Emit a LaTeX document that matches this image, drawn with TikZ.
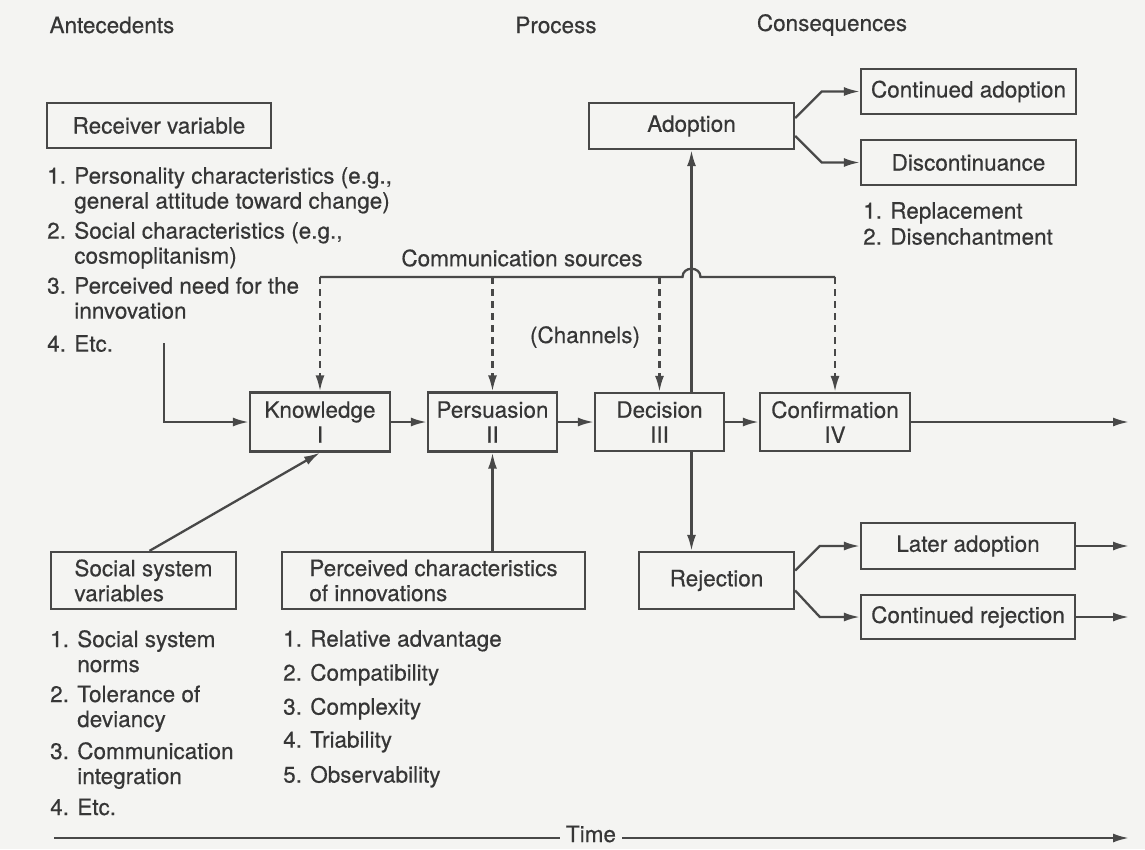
\documentclass[tikz,border=0pt]{standalone}
\usepackage{fontspec}
\setmainfont{TeX Gyre Heros}[FakeBold=0.4]
\usetikzlibrary{arrows.meta}
\definecolor{tratto}{HTML}{484848}
\definecolor{testo}{HTML}{363636}
\definecolor{sfondo}{HTML}{F4F4F2}
\begin{document}
\begin{tikzpicture}[x=1pt, y=-1pt,
    every node/.style={font=\fontsize{22.5}{25}\selectfont, text=testo},
    box/.style={draw=tratto, line width=2.3pt, rectangle, inner sep=0pt},
    lista/.style={align=left, anchor=north west, inner sep=0pt},
    filo/.style={draw=tratto, line width=2.3pt},
    freccia/.style={filo, -{Latex[length=16pt,width=9pt]}},
    tratteggio/.style={freccia, dash pattern=on 7pt off 5pt}]
      \useasboundingbox (0,0) rectangle (1145,849);
      \fill[sfondo] (0,0) rectangle (1145,849);

      % Titoli
      \node (ant) [anchor=west] at (46,25) {Antecedents};
      \node (proc) at (556,25) {Process};
      \node (cons) at (832,25) {Consequences};

      % Antecedenti
      \node (Receiver) at (159,125.5) [box, minimum width=224pt, minimum height=45pt] {Receiver variable};
      \node (rlist) [lista] at (47,167) {1. Personality characteristics (e.g.,\\\phantom{1. }general attitude toward change)\\[5pt]2. Social characteristics (e.g.,\\\phantom{2. }cosmoplitanism)\\[5pt]3. Perceived need for the\\\phantom{3. }innvovation\\[8pt]4. Etc.};
      \node (Social) at (143.5,580.5) [box, minimum width=185pt, minimum height=57pt, align=left] {Social system\\variables};
      \node (slist) [lista] at (50,630) {1. Social system\\\phantom{1. }norms\\[5pt]2. Tolerance of\\\phantom{2. }deviancy\\[7pt]3. Communication\\\phantom{3. }integration\\[6pt]4. Etc.};
      \node (Perceived) at (433.5,580.5) [box, minimum width=303pt, minimum height=57pt, align=left] {Perceived characteristics\\of innovations};
      \node (plist) [lista] at (283,630) {1. Relative advantage\\[9pt]2. Compatibility\\[9pt]3. Complexity\\[8pt]4. Triability\\[10pt]5. Observability};

      % Processo
      \node (Knowledge) at (320,422) [box, minimum width=140pt, minimum height=59pt, align=center] {Knowledge\\I};
      \node (Persuasion) at (492.5,422) [box, minimum width=129pt, minimum height=59pt, align=center] {Persuasion\\II};
      \node (Decision) at (659.5,422) [box, minimum width=129pt, minimum height=58pt, align=center] {Decision\\III};
      \node (Confirmation) at (835,422) [box, minimum width=150pt, minimum height=58pt, align=center] {Confirmation\\IV};
      \node (Adoption) at (691.5,126) [box, minimum width=205pt, minimum height=46pt] {Adoption};
      \node (Rejection) at (716.5,580.5) [box, minimum width=155pt, minimum height=57pt] {Rejection};
      \node (comm) at (522,258) {Communication sources};
      \node (chan) at (585,337) {(Channels)};

      % Conseguenze
      \node (ContAdopt) at (968.5,91.5) [box, minimum width=215pt, minimum height=45pt] {Continued adoption};
      \node (Discont) at (968.5,162.5) [box, minimum width=215pt, minimum height=45pt] {Discontinuance};
      \node (dlist) [lista] at (863,202) {1. Replacement\\[1pt]2. Disenchantment};
      \node (LaterAdopt) at (968,546) [box, minimum width=214pt, minimum height=46pt] {Later adoption};
      \node (ContReject) at (968,617) [box, minimum width=214pt, minimum height=44pt] {Continued rejection};

      % Tempo
      \node (time) at (591,834) [inner xsep=6pt, inner ysep=1pt] {Time};

      % Punti liberi
      \coordinate (rv) at (164,343);
      \coordinate (hop) at (691.5,277);
      \coordinate (endC) at (1129,422);
      \coordinate (endL) at (1129,546);
      \coordinate (endR) at (1129,617);
      \coordinate (t0) at (54,838);
      \coordinate (t1) at (1129,838);

      % Collegamenti
      \draw[freccia] (rv) |- (Knowledge.west);
      \draw[freccia] (Knowledge.east) -- (Persuasion.west);
      \draw[freccia] (Persuasion.east) -- (Decision.west);
      \draw[freccia] (Decision.east) -- (Confirmation.west);
      \draw[freccia] (Confirmation.east) -- (endC);
      \draw[freccia] ([xshift=6pt]Social.north) -- (Knowledge.south);
      \draw[freccia] (Perceived.north -| Persuasion) -- (Persuasion.south);
      \draw[freccia] (Decision.north -| Adoption) -- (Adoption.south);
      \draw[freccia] (Decision.south -| Adoption) -- (Rejection.north -| Adoption);
      \draw[freccia] ([yshift=8pt]Adoption.east) -- ([xshift=-38pt]ContAdopt.west) -- (ContAdopt.west);
      \draw[freccia] ([yshift=-10pt]Adoption.east) -- ([xshift=-38pt]Discont.west) -- (Discont.west);
      \draw[freccia] ([yshift=10pt]Rejection.east) -- ([xshift=-40pt]LaterAdopt.west) -- (LaterAdopt.west);
      \draw[freccia] ([yshift=-10pt]Rejection.east) -- ([xshift=-40pt]ContReject.west) -- (ContReject.west);
      \draw[freccia] (LaterAdopt.east) -- (endL);
      \draw[freccia] (ContReject.east) -- (endR);

      % Canali
      \draw[filo] (Knowledge.north |- hop) -- ([xshift=-9pt]hop) .. controls ([xshift=-9pt,yshift=11pt]hop) and ([xshift=9pt,yshift=11pt]hop) .. ([xshift=9pt]hop) -- (Confirmation.north |- hop);
      \draw[tratteggio] (Knowledge.north |- hop) -- (Knowledge.north);
      \draw[tratteggio] (Persuasion.north |- hop) -- (Persuasion.north);
      \draw[tratteggio] (Decision.north |- hop) -- (Decision.north);
      \draw[tratteggio] (Confirmation.north |- hop) -- (Confirmation.north);

      % Asse del tempo
      \draw[filo] (t0) -- (time.west |- t0);
      \draw[freccia] (time.east |- t0) -- (t1);
\end{tikzpicture}
\end{document}
